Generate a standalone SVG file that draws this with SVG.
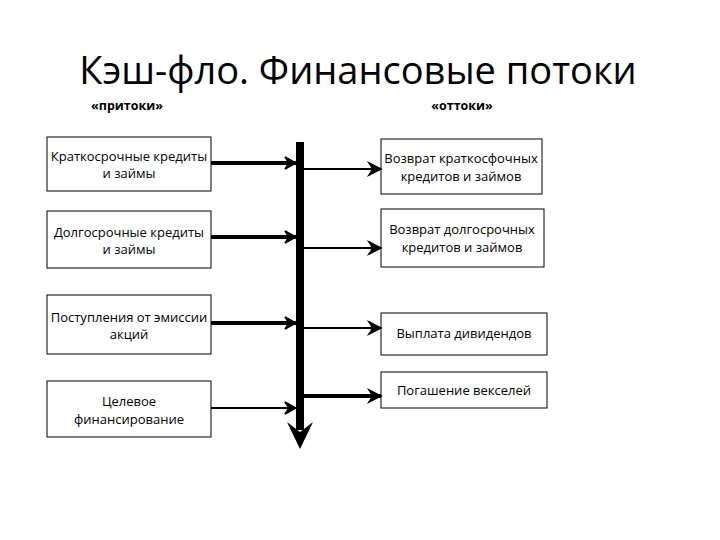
<svg xmlns="http://www.w3.org/2000/svg" width="720" height="540" viewBox="0 0 720 540">
<defs>
<style>
.box{fill:#fff;stroke:#000;stroke-width:1}
.t{font-family:"Open Sans","Liberation Sans",sans-serif;font-size:13px;fill:#000;text-anchor:middle}
.h{font-family:"Open Sans","Liberation Sans",sans-serif;font-size:12.5px;font-weight:bold;fill:#000;text-anchor:middle}
.thick{stroke:#000;stroke-width:4;fill:none}
.thin{stroke:#000;stroke-width:2;fill:none}
.head{stroke:#000;stroke-width:1.5;fill:#000}
</style>
</defs>
<rect width="720" height="540" fill="#fff"/>
<text x="358" y="84" font-family="Open Sans, Liberation Sans, sans-serif" font-size="38" text-anchor="middle" fill="#000">Кэш-фло. Финансовые потоки</text>
<text class="h" x="127" y="110">«притоки»</text>
<text class="h" x="462" y="110">«оттоки»</text>
<g id="in1"><rect class="box" x="47" y="137" width="164" height="54"/><text class="t" x="129" y="161">Краткосрочные кредиты</text><text class="t" x="129" y="178">и займы</text></g>
<g id="in2"><rect class="box" x="47" y="211" width="164" height="57"/><text class="t" x="129" y="237">Долгосрочные кредиты</text><text class="t" x="129" y="254">и займы</text></g>
<g id="in3"><rect class="box" x="47" y="295" width="164" height="59"/><text class="t" x="129" y="322">Поступления от эмиссии</text><text class="t" x="129" y="339">акций</text></g>
<g id="in4"><rect class="box" x="47" y="381" width="164" height="56"/><text class="t" x="129" y="406">Целевое</text><text class="t" x="129" y="424">финансирование</text></g>
<g id="out1"><rect class="box" x="381" y="139" width="161" height="55"/><text class="t" x="461" y="163">Возврат краткосфочных</text><text class="t" x="461" y="181">кредитов и займов</text></g>
<g id="out2"><rect class="box" x="381" y="209" width="163" height="58"/><text class="t" x="462" y="234">Возврат долгосрочных</text><text class="t" x="462" y="252">кредитов и займов</text></g>
<g id="out3"><rect class="box" x="381" y="313" width="166" height="42"/><text class="t" x="464" y="338">Выплата дивидендов</text></g>
<g id="out4"><rect class="box" x="381" y="372" width="166" height="36"/><text class="t" x="464" y="395">Погашение векселей</text></g>
<g id="connectors">
<rect x="296" y="142" width="8" height="288" fill="#000"/>
<polygon points="287,422 300,432 313,422 300,449" fill="#000"/>
<line class="thick" x1="211" y1="163" x2="296" y2="163"/>
<line class="thick" x1="211" y1="237" x2="296" y2="237"/>
<line class="thick" x1="211" y1="323" x2="296" y2="323"/>
<line class="thin" x1="211" y1="408" x2="296" y2="408"/>
<polygon class="head" points="285,157 296,163 285,169 289,163"/>
<polygon class="head" points="285,231 296,237 285,243 289,237"/>
<polygon class="head" points="285,317 296,323 285,329 289,323"/>
<polygon class="head" points="285,402 296,408 285,414 289,408"/>
<line class="thin" x1="304" y1="169" x2="381" y2="169"/>
<line class="thin" x1="304" y1="248" x2="381" y2="248"/>
<line class="thin" x1="304" y1="328" x2="381" y2="328"/>
<line class="thick" x1="304" y1="396" x2="381" y2="396"/>
<polygon class="head" points="369,163 381,169 369,175 373,169"/>
<polygon class="head" points="369,242 381,248 369,254 373,248"/>
<polygon class="head" points="369,322 381,328 369,334 373,328"/>
<polygon class="head" points="369,390 381,396 369,402 373,396"/>
</g>
</svg>
